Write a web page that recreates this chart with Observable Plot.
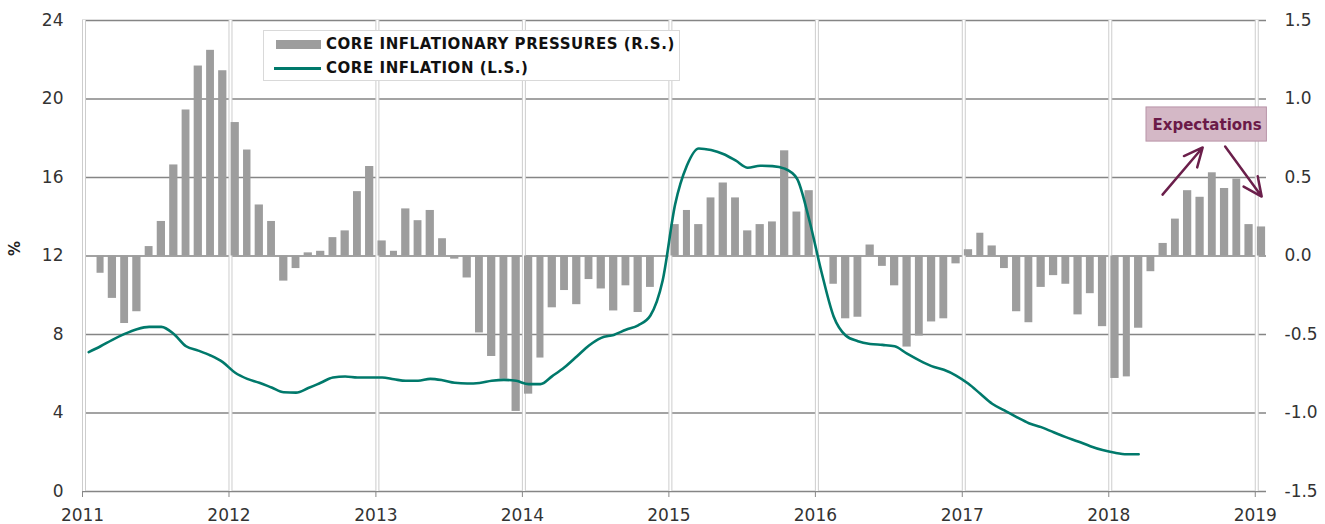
<!DOCTYPE html>
<html>
<head>
<meta charset="utf-8">
<script src="https://cdn.jsdelivr.net/npm/d3@7"></script>
<script src="https://cdn.jsdelivr.net/npm/@observablehq/plot@0.6"></script>
<style>
  html, body { margin: 0; padding: 0; background: #fff; }
  #wrap { position: relative; width: 1325px; height: 524px; font-family: "DejaVu Sans", sans-serif; }
  #legend { position: absolute; left: 263px; top: 30px; width: 417px; height: 51px; box-sizing: border-box;
    border: 1px solid #d9d9d9; background: #fff; font-weight: bold; font-size: 15px; letter-spacing: 0.55px; color: #111; }
  .row { position: absolute; left: 0; display: flex; align-items: center; height: 20px; white-space: nowrap; }
  .sw-bar { width: 45px; height: 9px; background: #9d9d9d; margin-left: 12px; margin-right: 5px; }
  .sw-line { width: 47px; height: 3px; background: #00796b; margin-left: 10px; margin-right: 5px; }
</style>
</head>
<body>
<div id="wrap">
  <div id="chart"></div>
  <div id="legend">
    <div class="row" style="top:3px"><div class="sw-bar"></div><span>CORE INFLATIONARY PRESSURES (R.S.)</span></div>
    <div class="row" style="top:27px"><div class="sw-line"></div><span>CORE INFLATION (L.S.)</span></div>
  </div>
</div>
<script>
// Monthly series, Jan 2011 .. Jan 2019
const startMonth = Date.UTC(2011, 0, 1);

// Core inflationary pressures (right scale), null = no bar
const pressures = [
  null, -0.11, -0.27, -0.43, -0.355, 0.06, 0.22, 0.58, 0.93, 1.21, 1.31, 1.18,   // 2011
  0.85, 0.675, 0.325, 0.22, -0.16, -0.08, 0.02, 0.03, 0.117, 0.16, 0.41, 0.57,   // 2012
  0.096, 0.03, 0.30, 0.225, 0.29, 0.11, -0.02, -0.14, -0.49, -0.64, -0.785, -0.99, // 2013
  -0.88, -0.65, -0.33, -0.22, -0.31, -0.15, -0.21, -0.35, -0.19, -0.36, -0.20, null, // 2014
  0.20, 0.29, 0.20, 0.37, 0.465, 0.37, 0.16, 0.20, 0.217, 0.67, 0.28, 0.416,     // 2015
  null, -0.18, -0.40, -0.39, 0.07, -0.066, -0.19, -0.58, -0.51, -0.42, -0.40, -0.05, // 2016
  0.04, 0.145, 0.064, -0.08, -0.355, -0.425, -0.20, -0.125, -0.18, -0.375, -0.24, -0.45, // 2017
  -0.78, -0.77, -0.46, -0.10, 0.08, 0.235, 0.416, 0.374, 0.53, 0.43, 0.49, 0.20, // 2018
  0.185                                                                          // 2019
];

// Core inflation, % (left scale), Jan 2011 .. Mar 2018
const inflation = [
  7.10, 7.40, 7.73, 8.03, 8.27, 8.39, 8.39, 8.03, 7.40, 7.18, 6.93, 6.59,   // 2011
  6.05, 5.74, 5.54, 5.30, 5.06, 5.04, 5.27, 5.54, 5.81, 5.86, 5.81, 5.81,   // 2012
  5.81, 5.72, 5.64, 5.64, 5.74, 5.67, 5.54, 5.50, 5.53, 5.64, 5.69, 5.64,   // 2013
  5.47, 5.47, 5.88, 6.33, 6.88, 7.44, 7.83, 7.98, 8.24, 8.47, 8.97, 10.75,  // 2014
  14.62, 16.61, 17.48, 17.40, 17.20, 16.87, 16.50, 16.60, 16.58, 16.45, 15.95, 13.86, // 2015
  11.16, 8.92, 7.95, 7.66, 7.52, 7.47, 7.40, 7.02, 6.68, 6.39, 6.20, 5.91,  // 2016
  5.49, 4.98, 4.47, 4.13, 3.79, 3.48, 3.28, 3.02, 2.77, 2.55, 2.31, 2.11,   // 2017
  1.97, 1.90, 1.90                                                          // 2018
];

const yearTicks = [2011, 2012, 2013, 2014, 2015, 2016, 2017, 2018, 2019];
const leftTicks = [0, 4, 8, 12, 16, 20, 24];
const rightTicks = [-1.5, -1.0, -0.5, 0.0, 0.5, 1.0, 1.5];

// Annotation ("Expectations") anchor data: dates and left-scale values
const noteLabel = [{date: Date.UTC(2018, 8, 3), v: 18.65, text: "Expectations"}];
const noteBox = [{d1: Date.UTC(2018, 3, 5), d2: Date.UTC(2019, 0, 30), v1: 17.83, v2: 19.57}];
const noteArrows = [
  {d1: Date.UTC(2018, 4, 15), v1: 15.13, d2: Date.UTC(2018, 7, 23), v2: 17.53},
  {d1: Date.UTC(2018, 9, 18), v1: 17.58, d2: Date.UTC(2019, 0, 17), v2: 15.03}
];

// Map right-scale value onto the left scale (1.5 <-> 24, 0 <-> 12, -1.5 <-> 0)
const toLeft = r => 12 + 8 * r;
const toRight = l => (l - 12) / 8;

const monthStart = i => d3.utcMonth.offset(new Date(startMonth), i);
const monthMid = i => new Date((+monthStart(i) + +monthStart(i + 1)) / 2);

const bars = pressures.map((v, i) => ({i, v})).filter(d => d.v != null);
const line = inflation.map((v, i) => ({i, v}));
const years = yearTicks.map(y => new Date(Date.UTC(y, 0, 1)));

const chart = Plot.plot({
  width: 1325,
  height: 524,
  marginLeft: 82,
  marginRight: 59,
  marginTop: 20,
  marginBottom: 33,
  style: {fontFamily: "DejaVu Sans, sans-serif", fontSize: "17px", background: "#fff", color: "#333"},
  x: {type: "utc", domain: [new Date(Date.UTC(2011, 0, 1)), new Date(Date.UTC(2019, 0, 29))]},
  y: {domain: [0, 24]},
  marks: [
    Plot.ruleY(leftTicks, {stroke: "#858585", strokeWidth: 1.5}),
    Plot.ruleX(years, {stroke: "#fff", strokeWidth: 3, dx: 1.5}),
    Plot.ruleX(years, {stroke: "#cdcdcd", strokeWidth: 1, dx: 0}),
    Plot.ruleX(years, {stroke: "#cdcdcd", strokeWidth: 1, dx: 3}),
    Plot.rect(bars, {
      x1: d => monthStart(d.i), x2: d => monthStart(d.i + 1),
      y1: () => toLeft(0), y2: d => toLeft(d.v),
      insetLeft: 2.1, insetRight: 2.1, fill: "#9d9d9d"
    }),
    Plot.line(line, {x: d => monthMid(d.i), y: "v", stroke: "#00796b", strokeWidth: 2.6, curve: "monotone-x"}),
    Plot.axisX({ticks: years, tickFormat: d3.utcFormat("%Y"), tickSize: 6, tickPadding: 11, stroke: "#888", fill: "#333", fontSize: 17, label: null}),
    Plot.axisY({anchor: "left", ticks: leftTicks, tickSize: 0, tickPadding: 19, fill: "#333", fontSize: 17, label: null}),
    Plot.axisY({anchor: "right", ticks: rightTicks.map(toLeft), tickFormat: d => toRight(d).toFixed(1), tickSize: 0, tickPadding: 18, fill: "#333", fontSize: 17, label: null}),
    Plot.text(["%"], {frameAnchor: "left", dx: -67, rotate: -90, fontWeight: "bold", fontSize: 15, fill: "#222"}),
    Plot.rect(noteBox, {x1: "d1", x2: "d2", y1: "v1", y2: "v2", fill: "#d4b8c6", stroke: "#b995a9", strokeWidth: 1}),
    Plot.text(noteLabel, {x: "date", y: "v", text: "text", fontWeight: "bold", fontSize: 15, fill: "#6b1a48"}),
    Plot.arrow(noteArrows, {x1: "d1", y1: "v1", x2: "d2", y2: "v2", stroke: "#6b1f4b", strokeWidth: 2.5, headLength: 16, headAngle: 50})
  ]
});
document.getElementById("chart").appendChild(chart);
</script>
</body>
</html>
